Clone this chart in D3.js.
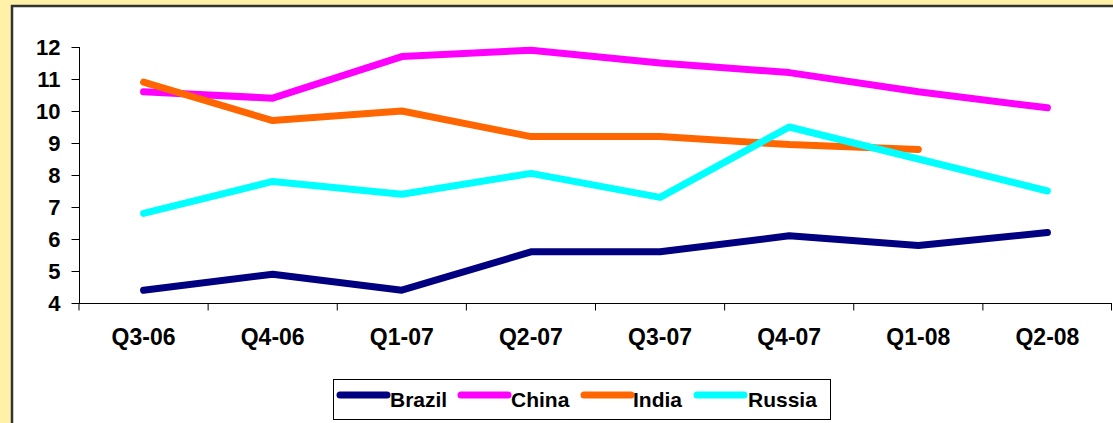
<!DOCTYPE html>
<html lang="en">
<head>
<meta charset="UTF-8">
<title>BRIC chart</title>
<script src="https://cdn.jsdelivr.net/npm/d3@7"></script>
<style>
  body{margin:0;background:#fff2a8;}
  svg{display:block;font-family:Arial,"Liberation Sans",sans-serif;}
</style>
</head>
<body>
<div id="draw"></div>
<script>
var quarters = ["Q3-06","Q4-06","Q1-07","Q2-07","Q3-07","Q4-07","Q1-08","Q2-08"];
var brazil = [4.4, 4.9, 4.4, 5.6, 5.6, 6.1, 5.8, 6.2];
var china  = [10.6, 10.4, 11.7, 11.9, 11.5, 11.2, 10.6, 10.1];
var india  = [10.9, 9.7, 10.0, 9.2, 9.2, 8.95, 8.8, null];
var russia = [6.8, 7.8, 7.4, 8.05, 7.3, 9.5, 8.5, 7.5];
var yTicks = [4,5,6,7,8,9,10,11,12];

var series = [
  {name:"Brazil", values:brazil, color:"#000080"},
  {name:"China",  values:china,  color:"#ff00ff"},
  {name:"India",  values:india,  color:"#ff6600"},
  {name:"Russia", values:russia, color:"#00ffff"}
];

var w = 1113, h = 423;
var svg = d3.select("#draw").append("svg").attr("width", w).attr("height", h);

// white chart panel with dark border
svg.append("rect")
  .attr("x", 12).attr("y", 6)
  .attr("width", w).attr("height", h)
  .attr("fill", "#fff").attr("stroke", "#333").attr("stroke-width", 2.5);

var x = d3.scaleBand().domain(quarters).range([79, 1112]);
var y = d3.scaleLinear().domain([4, 12]).range([303, 47]);

var yAxis = svg.append("g").attr("transform", "translate(79.5,0)")
  .call(d3.axisLeft(y).tickValues(yTicks).tickSize(8).tickPadding(11).tickFormat(d3.format("d")));
var xAxis = svg.append("g").attr("transform", "translate(0,303.5)")
  .call(d3.axisBottom(x).tickSize(7));
// ticks at band edges like Excel
xAxis.selectAll(".tick line").attr("x1", -x.bandwidth()/2).attr("x2", -x.bandwidth()/2);
xAxis.append("line").attr("x1", 1111.5).attr("x2", 1111.5).attr("y1", 0).attr("y2", 7).attr("stroke", "#000");
[yAxis, xAxis].forEach(function(g){
  g.select(".domain").attr("stroke", "#000");
  g.selectAll("text").attr("fill", "#000").style("font-size", "22px").style("font-weight", "bold");
});
xAxis.select(".domain").attr("d", "M79,0H1112");
yAxis.select(".domain").attr("d", "M0,303V47");
yAxis.selectAll("text").attr("dy", "0.36em");
xAxis.selectAll("text").attr("y", 41).attr("dy", null).style("font-size", "23px");

var line = d3.line()
  .defined(function(d){ return d != null; })
  .x(function(d, i){ return x(quarters[i]) + x.bandwidth()/2; })
  .y(function(d){ return y(d); });

svg.selectAll("path.series").data(series).enter().append("path")
  .attr("class", "series")
  .attr("d", function(d){ return line(d.values); })
  .attr("fill", "none")
  .attr("stroke", function(d){ return d.color; })
  .attr("stroke-width", 7)
  .attr("stroke-linecap", "round")
  .attr("stroke-linejoin", "round");

// legend
var lg = svg.append("g");
lg.append("rect").attr("x", 333.5).attr("y", 379.5).attr("width", 497).attr("height", 40)
  .attr("fill", "#fff").attr("stroke", "#000").attr("stroke-width", 1);
var legX = [340, 461, 584, 697];
var textX = [390, 511, 633, 748];
series.forEach(function(s, i){
  lg.append("line").attr("x1", legX[i]).attr("x2", legX[i] + 47).attr("y1", 395).attr("y2", 395)
    .attr("stroke", s.color).attr("stroke-width", 7).attr("stroke-linecap", "round");
  lg.append("text").attr("x", textX[i]).attr("y", 407).text(s.name)
    .style("font-size", "21px").style("font-weight", "bold").attr("fill", "#000");
});
</script>
</body>
</html>
